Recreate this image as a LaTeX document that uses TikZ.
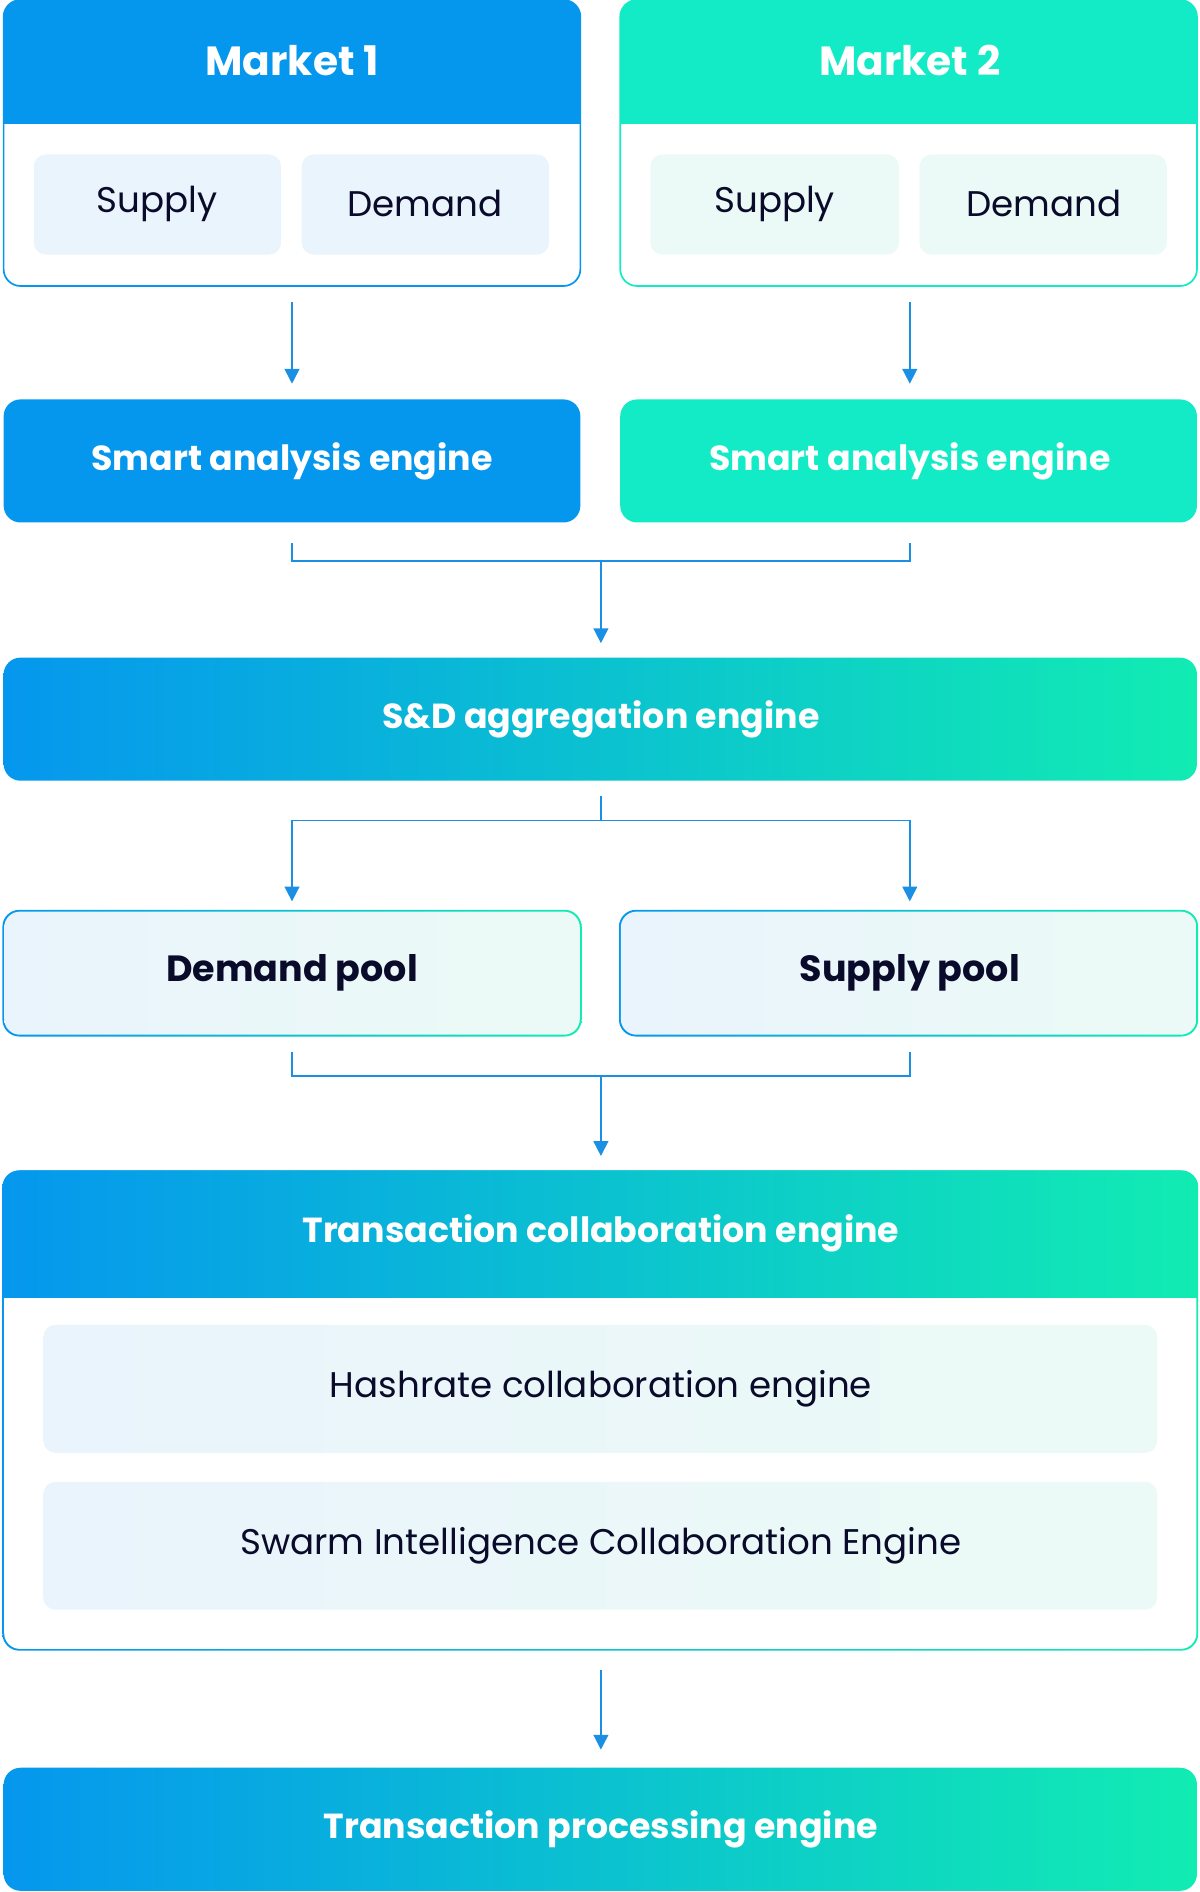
\documentclass[tikz,border=0pt]{standalone}
\usepackage{fontspec}
\setmainfont{Poppins}
\usetikzlibrary{arrows.meta}
\definecolor{mblue}{HTML}{0597EE}
\definecolor{mteal}{HTML}{13EAC6}
\definecolor{lblue}{HTML}{EAF4FC}
\definecolor{lteal}{HTML}{EBFAF6}
\definecolor{navy}{HTML}{0A0B2A}
\definecolor{wire}{HTML}{1A8FE3}
\tikzset{
  head/.style={text=white,font=\bfseries\fontsize{8.2}{10}\selectfont},
  big/.style={text=white,font=\bfseries\fontsize{9.6}{12}\selectfont},
  item/.style={text=navy,font=\fontsize{8.4}{10}\selectfont},
  pooltxt/.style={text=navy,font=\bfseries\fontsize{8.6}{10}\selectfont},
  grad/.style={left color=mblue,right color=mteal!90!green},
  wire/.style={draw=wire,line width=0.4pt},
  arr/.style={wire,-{Triangle[length=3.5pt,width=3.5pt]}},
}
\begin{document}
\begin{tikzpicture}[x=0.01cm,y=-0.01cm]
\useasboundingbox (0,0) rectangle (994,1568);
% markets
\begin{scope}
  \clip[rounded corners=0.14cm] (3,0) rectangle (481,237);
  \fill[mblue] (3,0) rectangle (481,103);
\end{scope}
\draw[mblue,line width=0.4pt,rounded corners=0.14cm] (3,0) rectangle (481,237);
\begin{scope}
  \clip[rounded corners=0.14cm] (514,0) rectangle (992,237);
  \fill[mteal] (514,0) rectangle (992,103);
\end{scope}
\draw[mteal,line width=0.4pt,rounded corners=0.14cm] (514,0) rectangle (992,237);
\node[big] (m1) at (242,50) {Market 1};
\node[big] (m2) at (754,50) {Market 2};
\fill[lblue,rounded corners=0.1cm] (28,128) rectangle (233,211);
\fill[lblue,rounded corners=0.1cm] (250,128) rectangle (455,211);
\fill[lteal,rounded corners=0.1cm] (539,128) rectangle (745,211);
\fill[lteal,rounded corners=0.1cm] (762,128) rectangle (967,211);
\node[item] (s1) at (130,169) {Supply};
\node[item] (d1) at (352,169) {Demand};
\node[item] (s2) at (642,169) {Supply};
\node[item] (d2) at (865,169) {Demand};
\coordinate (m1b) at (242,250);
\coordinate (m2b) at (754,250);
% smart analysis
\fill[mblue,rounded corners=0.14cm] (3,331) rectangle (481,433);
\fill[mteal,rounded corners=0.14cm] (514,331) rectangle (992,433);
\node[head] (sa1) at (242,382) {Smart analysis engine};
\node[head] (sa2) at (754,382) {Smart analysis engine};
\coordinate (sa1t) at (242,318);
\coordinate (sa2t) at (754,318);
\draw[arr] (m1b) -- (sa1t);
\draw[arr] (m2b) -- (sa2t);
% aggregation
\shade[grad,rounded corners=0.14cm] (3,545) rectangle (992,647);
\node[head] (agg) at (498,596) {S\&D aggregation engine};
\coordinate (j1) at (498,465);
\coordinate (aggt) at (498,533);
\draw[wire] (242,450) |- (j1) -| (754,450);
\draw[arr] (j1) -- (aggt);
% pools
\shade[grad,rounded corners=0.14cm] (2,754) rectangle (482,859);
\shade[left color=lblue,right color=lteal,rounded corners=0.13cm] (3.5,755.5) rectangle (480.5,857.5);
\shade[grad,rounded corners=0.14cm] (513,754) rectangle (993,859);
\shade[left color=lblue,right color=lteal,rounded corners=0.13cm] (514.5,755.5) rectangle (991.5,857.5);
\node[pooltxt] (dp) at (242,806) {Demand pool};
\node[pooltxt] (sp) at (754,806) {Supply pool};
\coordinate (j2) at (498,680);
\draw[wire] (498,660) -- (j2);
\draw[arr] (j2) -| (242,747);
\draw[arr] (j2) -| (754,747);
% transaction collaboration
\shade[grad,rounded corners=0.14cm] (2,970) rectangle (993,1368);
\fill[white,rounded corners=0.13cm] (3.5,971.5) rectangle (991.5,1366.5);
\begin{scope}
  \clip[rounded corners=0.14cm] (2,970) rectangle (993,1368);
  \shade[grad] (2,970) rectangle (993,1075);
\end{scope}
\node[head] (tc) at (498,1022) {Transaction collaboration engine};
\shade[left color=lblue,right color=lteal,rounded corners=0.1cm] (36,1098) rectangle (959,1204);
\shade[left color=lblue,right color=lteal,rounded corners=0.1cm] (36,1228) rectangle (959,1334);
\node[item] (hc) at (498,1151) {Hashrate collaboration engine};
\node[item] (sw) at (498,1281) {Swarm Intelligence Collaboration Engine};
\coordinate (j3) at (498,892);
\coordinate (tct) at (498,958);
\draw[wire] (242,872) |- (j3) -| (754,872);
\draw[arr] (j3) -- (tct);
% processing
\shade[grad,rounded corners=0.14cm] (3,1465) rectangle (992,1567);
\node[head] (tp) at (498,1516) {Transaction processing engine};
\coordinate (tcb) at (498,1384);
\coordinate (tpt) at (498,1450);
\draw[arr] (tcb) -- (tpt);
\end{tikzpicture}
\end{document}
